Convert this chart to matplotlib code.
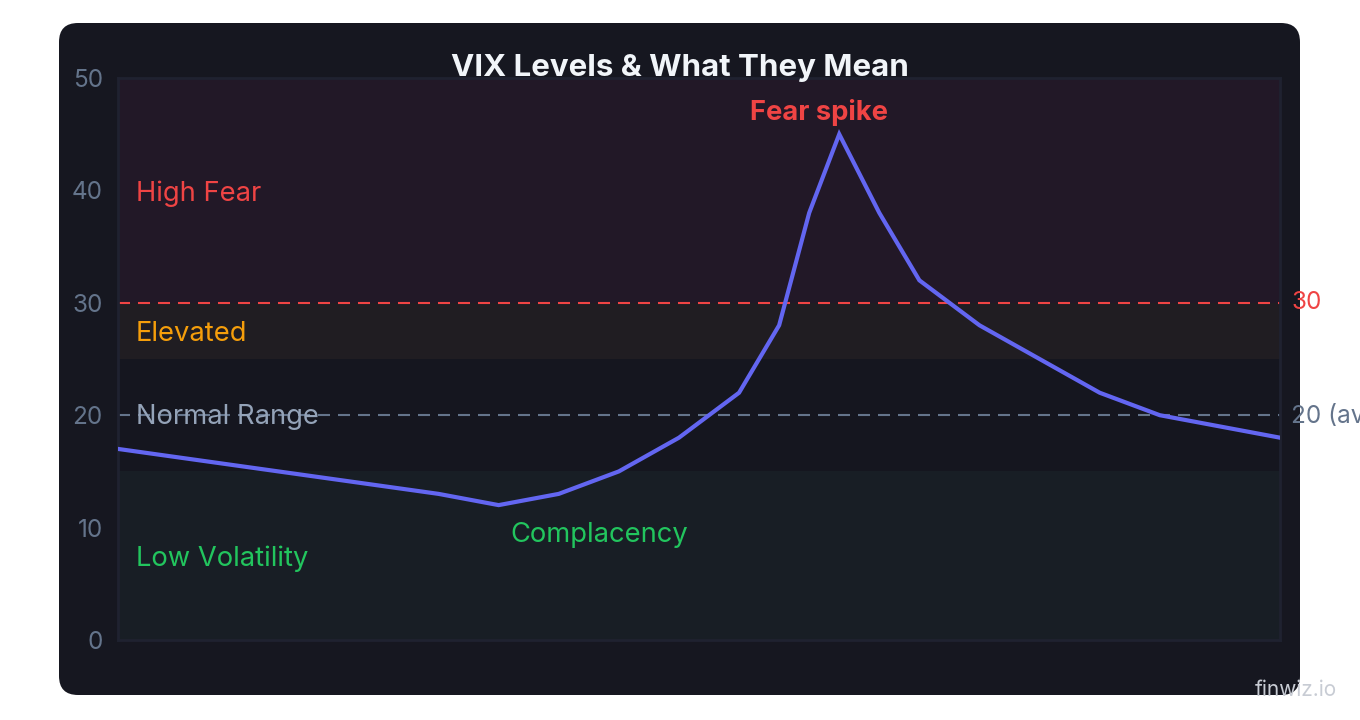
import matplotlib
matplotlib.use("Agg")
import matplotlib.pyplot as plt
from matplotlib.patches import FancyBboxPatch

plt.rcParams['font.family'] = ['Inter', 'DejaVu Sans']

# ---- data ----
days = [0, 32, 38, 44, 50, 56, 62, 66, 69, 72, 76, 80, 86, 92, 98, 104, 116]
vix = [17, 13, 12, 13, 15, 18, 22, 28, 38, 45, 38, 32, 28, 25, 22, 20, 18]
zone_names = ["Low Volatility", "Normal Range", "Elevated", "High Fear"]
zone_lo = [0, 15, 25, 30]
zone_hi = [15, 25, 30, 50]
zone_label_y = [7.25, 19.8, 27.2, 39.7]
zone_text_colors = ["#22c55e", "#94a3b8", "#f59e0b", "#ef4444"]
zone_fill = ["#181e25", "#15161f", "#201d22", "#221827"]
yticks = [0, 10, 20, 30, 40, 50]
ref_levels = [30, 20]
ref_labels = ["30", "20 (avg)"]
ref_colors = ["#ef4444", "#64748b"]

fig = plt.figure(figsize=(13.6, 7.2), dpi=100)
fig.patch.set_facecolor("white")

panel = FancyBboxPatch((59 / 1360, (720 - 695) / 720), (1300 - 59) / 1360, (695 - 23) / 720,
                       boxstyle="round,pad=0,rounding_size=0.014",
                       transform=fig.transFigure, facecolor="#161720", edgecolor="none",
                       mutation_aspect=1360 / 720, zorder=-5)
fig.patches.append(panel)

ax = fig.add_axes([118 / 1360, 80 / 720, 1162 / 1360, 562 / 720])
ax.set_zorder(2)
ax.set_facecolor("#15161f")
ax.set_xlim(0, 116)
ax.set_ylim(0, 50)

for lo, hi, fc in zip(zone_lo, zone_hi, zone_fill):
    ax.axhspan(lo, hi, color=fc, lw=0, zorder=0)

for name, yy, c in zip(zone_names, zone_label_y, zone_text_colors):
    ax.text(1.8, yy, name, color=c, fontsize=19.7, va="center", ha="left", zorder=3)

for lvl, lab, c in zip(ref_levels, ref_labels, ref_colors):
    ax.axhline(lvl, color=c, lw=1.5, dashes=(5.76, 3.84), zorder=2)
    ax.text(117.1, lvl, lab, color=c, fontsize=17.5, va="center", ha="left", clip_on=False)

ax.plot(days, vix, color="#6366f1", lw=3, solid_joinstyle="miter", zorder=4)

ax.text(70, 46.93, "Fear spike", color="#ef4444", fontsize=19.7, fontweight="bold",
        ha="center", va="center", zorder=5)
ax.text(48, 9.33, "Complacency", color="#22c55e", fontsize=19.7, ha="center", va="center", zorder=5)

ax.set_yticks(yticks)
ax.set_xticks([])
ax.tick_params(axis="y", length=0, colors="#64748b", labelsize=17.5, pad=11)
for s in ax.spines.values():
    s.set_color("#1f2230")
    s.set_linewidth(2)

fig.text(680 / 1360, 1 - 68 / 720, "VIX Levels & What They Mean", color="#f1f5f9",
         fontsize=22.5, fontweight="bold", ha="center", va="center", zorder=5)
fig.text(1296 / 1360, 1 - 690 / 720, "finwiz.io", color="#c8ccd4", fontsize=15,
         ha="center", va="center", zorder=5)

fig.savefig("out.png", dpi=100, facecolor="white")
